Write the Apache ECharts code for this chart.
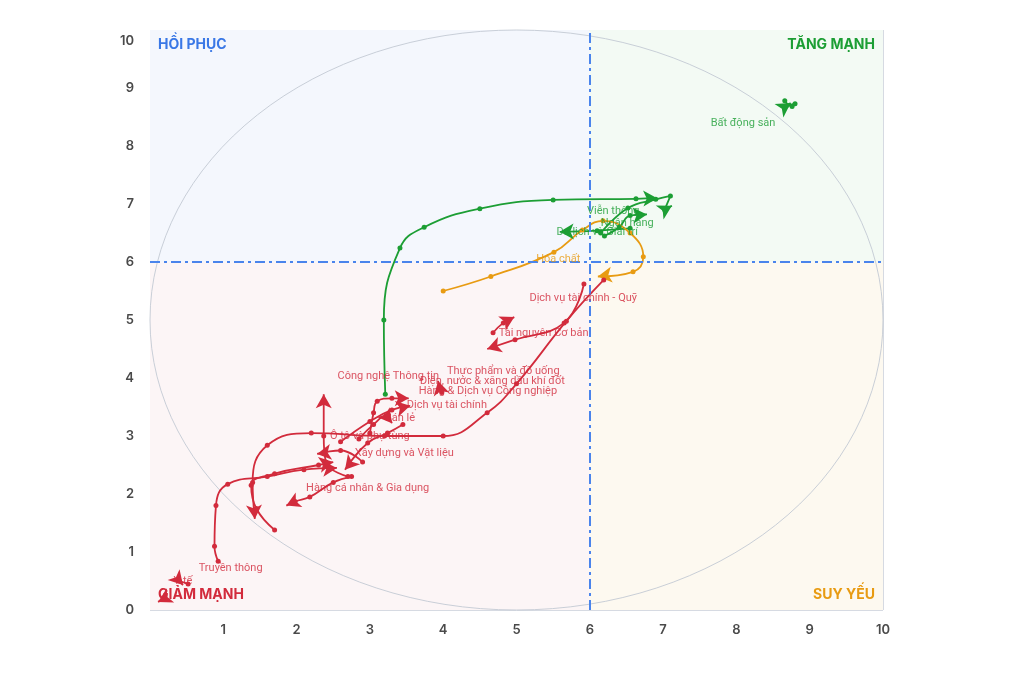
<!DOCTYPE html>
<html>
<head>
<meta charset="utf-8">
<script src="https://cdn.jsdelivr.net/npm/echarts@6/dist/echarts.min.js"></script>
<style>
  html, body { margin: 0; padding: 0; background: #fff; }
  #chart { width: 1021px; height: 679px; }
</style>
</head>
<body>
<div id="chart"></div>
<script>
// trails: each one is a list of [x, y] points, oldest first, last one gets the arrow
const trailTone = ['green', 'green', 'green', 'green', 'green', 'orange',
  'red', 'red', 'red', 'red', 'red', 'red', 'red', 'red', 'red', 'red', 'red', 'red', 'red', 'red', 'red']
const trailPoints = [
  [[3.21, 3.72], [3.19, 5.0], [3.41, 6.24], [3.74, 6.6], [4.5, 6.92], [5.5, 7.07], [6.63, 7.09], [6.92, 7.1]],
  [[6.15, 6.5], [6.52, 6.93], [6.9, 7.08], [7.1, 7.14], [7.02, 6.9], [7.12, 6.97]],
  [[6.2, 6.45], [6.4, 6.6], [6.55, 6.8], [6.78, 6.82]],
  [[6.55, 6.58], [6.1, 6.54], [5.59, 6.52]],
  [[8.66, 8.78], [8.76, 8.68], [8.8, 8.73], [8.68, 8.69], [8.74, 8.74]],
  [[4.0, 5.5], [4.65, 5.75], [5.51, 6.17], [5.9, 6.55], [6.18, 6.71], [6.55, 6.5], [6.73, 6.09], [6.59, 5.83], [6.11, 5.75]],
  [[5.92, 5.62], [5.65, 4.95], [4.98, 4.66], [4.6, 4.5]],
  [[4.68, 4.78], [4.82, 4.95], [4.97, 5.05]],
  [[6.19, 5.69], [5.68, 4.98], [5.0, 3.9], [4.6, 3.4], [4.0, 3.0], [3.2, 3.0], [2.2, 3.05], [1.6, 2.84], [1.4, 2.2], [1.43, 1.57]],
  [[0.93, 0.84], [0.88, 1.1], [0.9, 1.8], [1.06, 2.17], [1.6, 2.3], [2.1, 2.42], [2.55, 2.45]],
  [[2.7, 2.3], [2.4, 2.55], [2.37, 3.0], [2.37, 3.72]],
  [[2.75, 2.3], [2.5, 2.2], [2.18, 1.95], [1.98, 1.87], [1.86, 1.8]],
  [[2.85, 2.95], [3.05, 3.2], [3.22, 3.35], [3.3, 3.22]],
  [[3.0, 3.05], [3.05, 3.4], [3.1, 3.6], [3.3, 3.65], [3.53, 3.65]],
  [[2.6, 2.9], [3.0, 3.25], [3.3, 3.45], [3.55, 3.52]],
  [[3.45, 3.2], [3.24, 3.05], [2.97, 2.88], [2.66, 2.42]],
  [[3.98, 3.75], [3.95, 3.85], [3.93, 3.95]],
  [[0.52, 0.45], [0.4, 0.5], [0.45, 0.43]],
  [[0.2, 0.2], [0.11, 0.14]],
  [[1.7, 1.38], [1.45, 1.75], [1.38, 2.15], [1.7, 2.35], [2.3, 2.5], [2.5, 2.55]],
  [[2.9, 2.55], [2.6, 2.75], [2.28, 2.69]]
]

const labelNames = ['Bất động sản', 'Viễn thông', 'Ngân hàng', 'Du lịch và Giải trí', 'Hóa chất',
  'Dịch vụ tài chính - Quỹ', 'Tài nguyên Cơ bản', 'Thực phẩm và đồ uống', 'Điện, nước & xăng dầu khí đốt',
  'Hàng & Dịch vụ Công nghiệp', 'Công nghệ Thông tin', 'Dịch vụ tài chính', 'Bán lẻ', 'Ô tô và phụ tùng',
  'Xây dựng và Vật liệu', 'Hàng cá nhân & Gia dụng', 'Truyền thông', 'Y tế']
const labelAt = [[8.09, 8.4], [6.32, 6.88], [6.51, 6.67], [6.1, 6.52], [5.57, 6.05],
  [5.91, 5.38], [5.37, 4.78], [4.82, 4.12], [4.67, 3.95],
  [4.61, 3.78], [3.25, 4.03], [4.05, 3.53], [3.41, 3.31], [3.0, 3.0],
  [3.47, 2.71], [2.97, 2.1], [1.1, 0.72], [0.45, 0.5]]
const labelTone = ['green', 'green', 'green', 'green', 'orange',
  'red', 'red', 'red', 'red', 'red', 'red', 'red', 'red', 'red', 'red', 'red', 'red', 'red']

const quadrantNames = ['HỒI PHỤC', 'TĂNG MẠNH', 'GIẢM MẠNH', 'SUY YẾU']
const axisMin = 0
const axisMax = 10
const centre = 6

const tones = { green: '#1c9e34', orange: '#e89b12', red: '#d22b3c', blue: '#3a78e6' }

const chart = echarts.init(document.getElementById('chart'))

function trailData(points, rotate) {
  return points.map((p, i) => i === points.length - 1
    ? { value: p, symbol: 'arrow', symbolSize: [12, 14], symbolRotate: rotate }
    : { value: p })
}

const quadrantSeries = {
  type: 'line',
  data: [],
  z: 0,
  silent: true,
  markArea: {
    silent: true,
    label: { fontSize: 14, fontWeight: 'bold', distance: 8, fontFamily: 'Inter, Roboto, sans-serif' },
    data: [
      [{ xAxis: axisMin, yAxis: centre, name: quadrantNames[0], itemStyle: { color: '#f4f7fd' }, label: { position: 'insideTopLeft', color: tones.blue } },
        { xAxis: centre, yAxis: axisMax }],
      [{ xAxis: centre, yAxis: centre, name: quadrantNames[1], itemStyle: { color: '#f3faf4' }, label: { position: 'insideTopRight', color: tones.green } },
        { xAxis: axisMax, yAxis: axisMax }],
      [{ xAxis: axisMin, yAxis: axisMin, name: quadrantNames[2], itemStyle: { color: '#fcf5f6' }, label: { position: 'insideBottomLeft', color: tones.red } },
        { xAxis: centre, yAxis: centre }],
      [{ xAxis: centre, yAxis: axisMin, name: quadrantNames[3], itemStyle: { color: '#fdf9f0' }, label: { position: 'insideBottomRight', color: tones.orange } },
        { xAxis: axisMax, yAxis: centre }]
    ]
  },
  markLine: {
    silent: true,
    symbol: 'none',
    label: { show: false },
    lineStyle: { color: '#4a84ec', width: 2, type: [10, 4, 3, 4] },
    data: [{ xAxis: centre }, { yAxis: centre }]
  }
}

function buildSeries(rotations) {
  const list = [quadrantSeries]
  trailPoints.forEach((pts, k) => {
    const c = tones[trailTone[k]]
    list.push({
      type: 'line',
      smooth: 0.45,
      z: 4,
      data: trailData(pts, rotations[k]),
      symbol: 'circle',
      symbolSize: 5,
      showAllSymbol: true,
      lineStyle: { color: c, width: 1.8 },
      itemStyle: { color: c },
      animation: false
    })
  })
  list.push({
    type: 'scatter',
    z: 6,
    symbolSize: 0,
    data: labelAt.map((p, i) => ({
      value: p,
      label: { show: true, formatter: labelNames[i], color: tones[labelTone[i]] }
    })),
    label: { position: 'inside', fontSize: 11, fontFamily: 'Roboto, sans-serif' },
    animation: false
  })
  return list
}

const labelStyle = { color: '#4a4a4a', fontSize: 13, fontWeight: 600, fontFamily: 'Inter, Roboto, sans-serif' }

const option = {
  animation: false,
  grid: { left: 150, right: 138, top: 30, bottom: 69 },
  xAxis: {
    type: 'value', min: axisMin, max: axisMax, interval: 1,
    axisLine: { show: false },
    axisTick: { show: false },
    axisLabel: { ...labelStyle, margin: 14, formatter: v => v === 0 ? '' : v },
    splitLine: { lineStyle: { color: '#d6dae2', width: 1 } }
  },
  yAxis: {
    type: 'value', min: axisMin, max: axisMax, interval: 1,
    axisLine: { show: false },
    axisTick: { show: false },
    axisLabel: {
      ...labelStyle, margin: 16,
      // top label sits a little below the border
      formatter: v => v === axisMax ? '{top|' + v + '}' : v,
      rich: { top: { ...labelStyle, padding: [22, 0, 0, 0] } }
    },
    splitLine: { lineStyle: { color: '#d6dae2', width: 1 } }
  },
  series: buildSeries(trailPoints.map(() => 0))
}

chart.setOption(option)

// arrow direction from the last two points, in pixels
const rotations = trailPoints.map(pts => {
  const a = chart.convertToPixel({ gridIndex: 0 }, pts[pts.length - 2])
  const b = chart.convertToPixel({ gridIndex: 0 }, pts[pts.length - 1])
  return Math.atan2(a[1] - b[1], b[0] - a[0]) * 180 / Math.PI - 90
})

// reference ellipse: radius 5 around the middle of the plot
const mid = chart.convertToPixel({ gridIndex: 0 }, [5, 5])
const edge = chart.convertToPixel({ gridIndex: 0 }, [10, 10])
const rx = edge[0] - mid[0]
const ry = mid[1] - edge[1]

chart.setOption({
  series: buildSeries(rotations),
  graphic: [{
    type: 'circle',
    x: mid[0], y: mid[1],
    scaleY: ry / rx,
    z: 1,
    silent: true,
    shape: { cx: 0, cy: 0, r: rx },
    style: { fill: 'none', stroke: '#c3c9d3', lineWidth: 1, strokeNoScale: true }
  }]
})

window.addEventListener('resize', () => chart.resize())
</script>
</body>
</html>
